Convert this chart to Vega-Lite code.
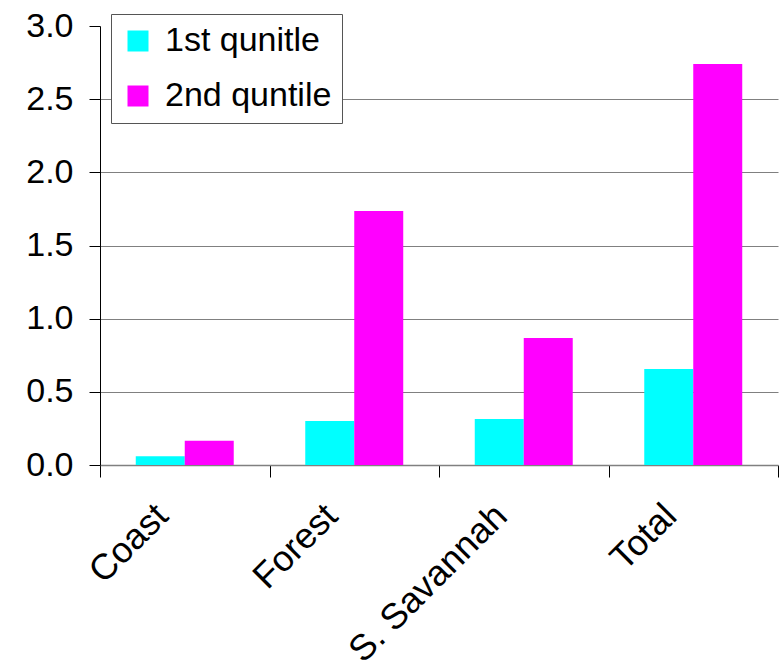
{
  "$schema": "https://vega.github.io/schema/vega-lite/v6.json",
  "autosize": "none",
  "width": 678,
  "height": 439,
  "padding": {"left": 100, "top": 26, "right": 6, "bottom": 196},
  "background": "white",
  "config": {
    "view": {"stroke": null},
    "font": "Liberation Sans"
  },
  "data": {
    "values": [
      {"region": "Coast", "series": "1st qunitle", "value": 0.06},
      {"region": "Coast", "series": "2nd quntile", "value": 0.165},
      {"region": "Forest", "series": "1st qunitle", "value": 0.30},
      {"region": "Forest", "series": "2nd quntile", "value": 1.735},
      {"region": "S. Savannah", "series": "1st qunitle", "value": 0.315},
      {"region": "S. Savannah", "series": "2nd quntile", "value": 0.868},
      {"region": "Total", "series": "1st qunitle", "value": 0.656},
      {"region": "Total", "series": "2nd quntile", "value": 2.74}
    ]
  },
  "mark": {"type": "bar"},
  "encoding": {
    "x": {
      "field": "region",
      "type": "nominal",
      "sort": ["Coast", "Forest", "S. Savannah", "Total"],
      "scale": {"paddingInner": 0, "paddingOuter": 0},
      "axis": {
        "title": null,
        "labelAngle": -45,
        "labelFontSize": 36,
        "labelColor": "black",
        "labelPadding": 21,
        "labelLimit": 1000,
        "labelOffset": -35,
        "tickBand": "extent",
        "tickSize": 12,
        "tickColor": "black",
        "domainColor": "#808080",
        "domainWidth": 1.5,
        "grid": false
      }
    },
    "xOffset": {"field": "series", "type": "nominal", "scale": {"paddingInner": 0, "paddingOuter": 0.73}},
    "y": {
      "field": "value",
      "type": "quantitative",
      "scale": {"domain": [0, 3], "nice": false},
      "axis": {
        "title": null,
        "values": [0, 0.5, 1, 1.5, 2, 2.5, 3],
        "format": ".1f",
        "labelFontSize": 34,
        "labelColor": "black",
        "labelPadding": 16,
        "tickSize": 11,
        "tickColor": "black",
        "domainColor": "black",
        "grid": true,
        "gridColor": "#808080",
        "gridOpacity": {"condition": {"test": "datum.value >= 3 || datum.value <= 0", "value": 0}, "value": 1}
      }
    },
    "color": {
      "field": "series",
      "type": "nominal",
      "scale": {"domain": ["1st qunitle", "2nd quntile"], "range": ["#00FFFF", "#FF00FF"]},
      "legend": {
        "title": null,
        "orient": "none",
        "legendX": 11,
        "legendY": -12,
        "padding": 10,
        "strokeColor": "#555555",
        "fillColor": "white",
        "symbolType": "square",
        "symbolSize": 441,
        "symbolStrokeWidth": 0,
        "symbolOpacity": 1,
        "labelFontSize": 34,
        "labelColor": "black",
        "labelOffset": 10,
        "rowPadding": 21,
        "labelLimit": 400
      }
    }
  }
}
